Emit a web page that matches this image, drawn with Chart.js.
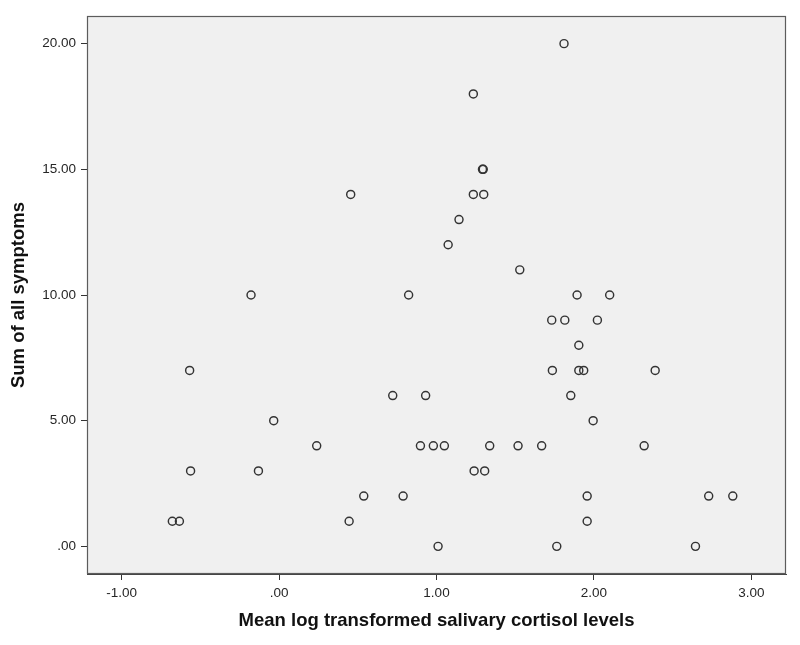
<!DOCTYPE html>
<html>
<head>
<meta charset="utf-8">
<script src="https://cdn.jsdelivr.net/npm/chart.js@4/dist/chart.umd.min.js"></script>
<style>
    html, body { margin: 0; padding: 0; background: #ffffff; }
    #chart { display: block; }
</style>
</head>
<body>
<canvas id="chart" width="800" height="645"></canvas>
<script>
// Valeurs (une valeur par participant)
const cortisolLevels = [
    1.810,
    1.234,
    1.292, 1.297,
    0.455, 1.234, 1.300,
    1.143,
    1.074,
    1.529,
    -0.178, 0.823, 1.893, 2.100,
    1.732, 1.815, 2.022,
    1.904,
    -0.568, 1.736, 1.904, 1.935, 2.389,
    0.722, 0.931, 1.853,
    -0.034, 1.995,
    0.239, 0.898, 0.980, 1.050, 1.338, 1.518, 1.668, 2.319,
    -0.562, -0.131, 1.239, 1.306,
    0.538, 0.788, 1.957, 2.729, 2.882,
    -0.678, -0.633, 0.445, 1.957,
    1.010, 1.764, 2.645
];
const symptomSums = [
    20,
    18,
    15, 15,
    14, 14, 14,
    13,
    12,
    11,
    10, 10, 10, 10,
    9, 9, 9,
    8,
    7, 7, 7, 7, 7,
    6, 6, 6,
    5, 5,
    4, 4, 4, 4, 4, 4, 4, 4,
    3, 3, 3, 3,
    2, 2, 2, 2, 2,
    1, 1, 1, 1,
    0, 0, 0
];
const xTicks = [-1, 0, 1, 2, 3];
const yTicks = [0, 5, 10, 15, 20];

const xTitle = 'Mean log transformed salivary cortisol levels';
const yTitle = 'Sum of all symptoms';

// Format SPSS : ".00", "5.00", "-1.00"
function spssLabel(value) {
    return Number(value).toFixed(2).replace(/^(-?)0\./, '$1.');
}

// Fond gris de la zone de tracé + cadre
const plotFrame = {
    id: 'plotFrame',
    beforeDatasetsDraw(chart) {
        const { ctx, chartArea: a } = chart;
        ctx.save();
        ctx.fillStyle = '#f0f0f0';
        ctx.fillRect(a.left, a.top, a.right - a.left, a.bottom - a.top);
        ctx.restore();
    },
    afterDraw(chart) {
        const { ctx, chartArea: a } = chart;
        ctx.save();
        ctx.strokeStyle = '#5c5c5c';
        ctx.lineWidth = 1.2;
        ctx.strokeRect(a.left + 0.5, a.top + 0.5, a.right - a.left - 1, a.bottom - a.top - 1);
        ctx.restore();
    }
};

const points = cortisolLevels.map((x, i) => ({ x: x, y: symptomSums[i] }));

const tickFont = { family: 'Arial, "Liberation Sans", sans-serif', size: 13.5 };
const titleFont = { family: 'Arial, "Liberation Sans", sans-serif', size: 18.5, weight: 'bold' };

new Chart(document.getElementById('chart').getContext('2d'), {
    type: 'scatter',
    data: {
        datasets: [{
            data: points,
            backgroundColor: 'rgba(0,0,0,0)',
            borderColor: '#333333',
            borderWidth: 1.45,
            pointRadius: 4,
            pointHoverRadius: 4
        }]
    },
    options: {
        responsive: false,
        animation: false,
        events: [],
        layout: { padding: { left: 0, top: 16, right: 14, bottom: 0 } },
        plugins: {
            legend: { display: false },
            tooltip: { enabled: false }
        },
        scales: {
            x: {
                type: 'linear',
                min: -1.22,
                max: 3.22,
                afterBuildTicks: scale => { scale.ticks = xTicks.map(v => ({ value: v })); },
                afterFit: scale => { scale.height = 71; },
                grid: { drawOnChartArea: false, drawTicks: true, tickLength: 6, color: '#333333' },
                border: { display: true, color: '#444444', width: 1 },
                ticks: { font: tickFont, color: '#262626', padding: 5, maxRotation: 0, callback: v => spssLabel(v) },
                title: { display: true, text: xTitle, font: titleFont, color: '#111111', padding: { top: 0, bottom: 13 } }
            },
            y: {
                type: 'linear',
                min: -1.1,
                max: 21.1,
                afterBuildTicks: scale => { scale.ticks = yTicks.map(v => ({ value: v })); },
                afterFit: scale => { scale.width = 87; },
                grid: { drawOnChartArea: false, drawTicks: true, tickLength: 6, color: '#333333' },
                border: { display: true, color: '#444444', width: 1 },
                ticks: { font: tickFont, color: '#262626', padding: 5, callback: v => spssLabel(v) },
                title: { display: true, text: yTitle, font: titleFont, color: '#111111', padding: { top: 8, bottom: 0 } }
            }
        }
    },
    plugins: [plotFrame]
});
</script>
</body>
</html>
